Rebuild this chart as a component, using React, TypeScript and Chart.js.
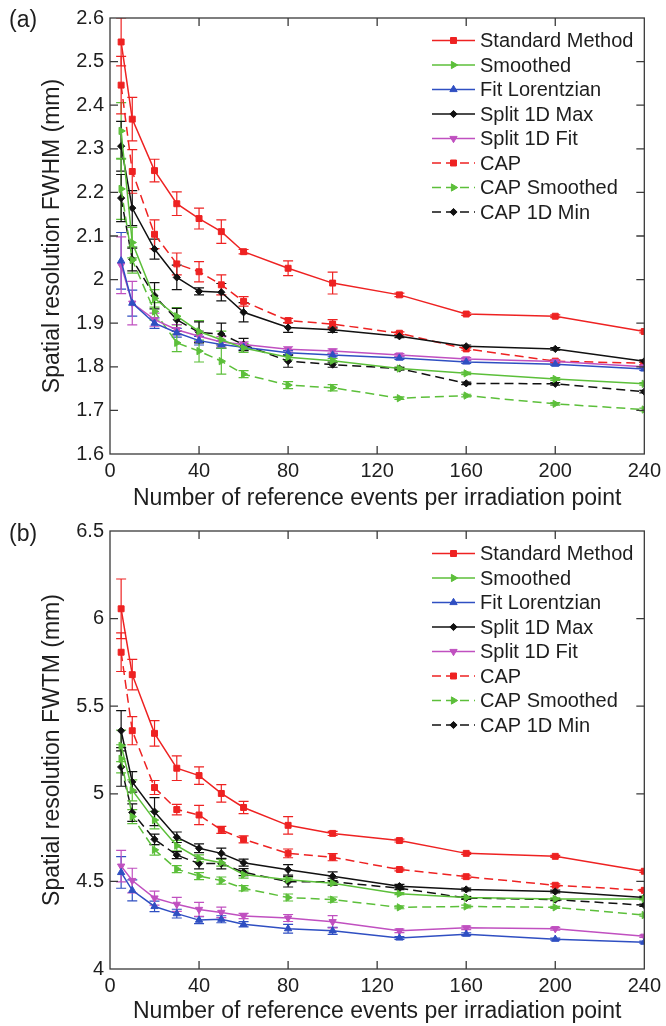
import React, { useEffect, useRef } from 'react';
import { Chart, registerables } from 'chart.js';
import { drawPoint } from 'chart.js/helpers';

Chart.register(...registerables);

const FONT = '"Liberation Sans", Arial, Helvetica, sans-serif';
const TEXT = '#1e1e1e';

// Number of reference events per irradiation point
const X = [5, 10, 20, 30, 40, 50, 60, 80, 100, 130, 160, 200, 240];
const X_TICKS = [0, 40, 80, 120, 160, 200, 240];

const LABELS = ['Standard Method', 'Smoothed', 'Fit Lorentzian', 'Split 1D Max', 'Split 1D Fit', 'CAP', 'CAP Smoothed', 'CAP 1D Min'];

// ---------- (a) FWHM ----------
const stdA = [2.545, 2.368, 2.25, 2.174, 2.14, 2.11, 2.064, 2.026, 1.992, 1.965, 1.921, 1.916, 1.881];
const stdAErr = [0.055, 0.05, 0.026, 0.027, 0.024, 0.027, 0.005, 0.017, 0.025, 0.004, 0.003, 0.003, 0.003];
const smA = [2.341, 2.085, 1.957, 1.916, 1.881, 1.862, 1.843, 1.822, 1.814, 1.796, 1.785, 1.772, 1.761];
const smAErr = [0.065, 0.035, 0.02, 0.02, 0.025, 0.02, 0.01, 0.006, 0.005, 0.003, 0.003, 0.003, 0.003];
const lorA = [2.043, 1.946, 1.9, 1.878, 1.86, 1.851, 1.845, 1.832, 1.827, 1.82, 1.811, 1.806, 1.795];
const lorAErr = [0.065, 0.03, 0.012, 0.01, 0.01, 0.008, 0.006, 0.005, 0.004, 0.003, 0.003, 0.003, 0.003];
const maxA = [2.306, 2.164, 2.07, 2.005, 1.973, 1.971, 1.925, 1.89, 1.885, 1.87, 1.847, 1.841, 1.813];
const maxAErr = [0.057, 0.04, 0.023, 0.028, 0.008, 0.02, 0.022, 0.011, 0.006, 0.003, 0.003, 0.003, 0.003];
const fitA = [2.033, 1.946, 1.908, 1.885, 1.87, 1.857, 1.851, 1.84, 1.836, 1.827, 1.818, 1.812, 1.8];
const fitAErr = [0.065, 0.05, 0.015, 0.012, 0.012, 0.012, 0.006, 0.006, 0.005, 0.003, 0.003, 0.003, 0.003];
const capA = [2.446, 2.248, 2.104, 2.036, 2.018, 1.988, 1.95, 1.906, 1.898, 1.877, 1.841, 1.813, 1.808];
const capAErr = [0.066, 0.05, 0.033, 0.025, 0.023, 0.023, 0.011, 0.005, 0.01, 0.003, 0.003, 0.003, 0.003];
const capSmA = [2.208, 2.045, 1.927, 1.855, 1.836, 1.813, 1.783, 1.758, 1.752, 1.728, 1.734, 1.715, 1.702];
const capSmAErr = [0.07, 0.03, 0.02, 0.02, 0.025, 0.03, 0.008, 0.008, 0.007, 0.003, 0.003, 0.003, 0.003];
const minA = [2.187, 2.046, 1.963, 1.908, 1.879, 1.875, 1.851, 1.813, 1.805, 1.796, 1.762, 1.761, 1.743];
const minAErr = [0.054, 0.026, 0.03, 0.026, 0.024, 0.025, 0.014, 0.014, 0.006, 0.003, 0.003, 0.003, 0.003];

// ---------- (b) FWTM ----------
const stdB = [6.056, 5.68, 5.345, 5.146, 5.104, 5.002, 4.922, 4.82, 4.774, 4.733, 4.66, 4.643, 4.558];
const stdBErr = [0.17, 0.087, 0.073, 0.07, 0.05, 0.05, 0.035, 0.05, 0.012, 0.008, 0.006, 0.006, 0.006];
const smB = [5.274, 5.02, 4.85, 4.704, 4.631, 4.607, 4.539, 4.51, 4.49, 4.43, 4.408, 4.4, 4.4];
const smBErr = [0.09, 0.06, 0.05, 0.03, 0.02, 0.02, 0.02, 0.01, 0.01, 0.006, 0.006, 0.006, 0.006];
const lorB = [4.551, 4.449, 4.357, 4.316, 4.279, 4.284, 4.255, 4.23, 4.218, 4.177, 4.199, 4.17, 4.153];
const lorBErr = [0.09, 0.06, 0.03, 0.025, 0.02, 0.02, 0.015, 0.025, 0.02, 0.008, 0.008, 0.006, 0.006];
const maxB = [5.36, 5.068, 4.898, 4.752, 4.689, 4.66, 4.607, 4.566, 4.529, 4.473, 4.454, 4.442, 4.408];
const maxBErr = [0.115, 0.058, 0.08, 0.03, 0.025, 0.03, 0.02, 0.03, 0.025, 0.01, 0.008, 0.008, 0.006];
const fitB = [4.587, 4.505, 4.405, 4.369, 4.34, 4.323, 4.303, 4.291, 4.27, 4.218, 4.235, 4.23, 4.187];
const fitBErr = [0.09, 0.07, 0.04, 0.04, 0.04, 0.03, 0.015, 0.02, 0.035, 0.01, 0.01, 0.008, 0.006];
const capB = [5.808, 5.36, 5.036, 4.91, 4.879, 4.794, 4.74, 4.66, 4.638, 4.568, 4.527, 4.478, 4.449];
const capBErr = [0.11, 0.08, 0.04, 0.03, 0.055, 0.02, 0.02, 0.025, 0.02, 0.008, 0.008, 0.008, 0.006];
const capSmB = [5.2, 4.87, 4.68, 4.57, 4.53, 4.505, 4.461, 4.408, 4.396, 4.352, 4.357, 4.352, 4.308];
const capSmBErr = [0.08, 0.04, 0.03, 0.02, 0.02, 0.02, 0.015, 0.02, 0.015, 0.008, 0.008, 0.006, 0.006];
const minB = [5.153, 4.893, 4.74, 4.65, 4.602, 4.602, 4.553, 4.498, 4.498, 4.461, 4.405, 4.396, 4.364];
const minBErr = [0.11, 0.05, 0.03, 0.02, 0.03, 0.03, 0.02, 0.03, 0.02, 0.008, 0.008, 0.006, 0.006];

const RED = '#ee2222';
const GREEN = '#5cbf3a';
const BLUE = '#2f4fc2';
const BLACK = '#111111';
const MAGENTA = '#c050c0';

const STYLES = [
  { color: RED, dash: [], style: 'rect', rot: 0, r: 4.2 },
  { color: GREEN, dash: [], style: 'triangle', rot: 90, r: 4.2 },
  { color: BLUE, dash: [], style: 'triangle', rot: 0, r: 4.2 },
  { color: BLACK, dash: [], style: 'rectRot', rot: 0, r: 3.6 },
  { color: MAGENTA, dash: [], style: 'triangle', rot: 180, r: 4.2 },
  { color: RED, dash: [9, 5], style: 'rect', rot: 0, r: 4.2 },
  { color: GREEN, dash: [9, 5], style: 'triangle', rot: 90, r: 4.2 },
  { color: BLACK, dash: [9, 5], style: 'rectRot', rot: 0, r: 3.6 },
];

function makeDatasets(series: number[][], errs: number[][]) {
  return series.map((vals, i) => {
    const s = STYLES[i];
    return {
      label: LABELS[i],
      data: vals.map((v, j) => ({ x: X[j], y: v })),
      errors: errs[i],
      borderColor: s.color,
      backgroundColor: s.color,
      borderWidth: 1.5,
      borderDash: s.dash,
      pointStyle: s.style,
      pointRotation: s.rot,
      pointRadius: s.r,
      pointBorderWidth: 1,
      pointBackgroundColor: s.color,
      pointBorderColor: s.color,
      tension: 0,
      fill: false,
    };
  });
}

const errorBarPlugin = {
  id: 'errorBars',
  beforeDatasetsDraw(chart: any) {
    const { ctx, chartArea, scales } = chart;
    ctx.save();
    ctx.beginPath();
    ctx.rect(chartArea.left, chartArea.top, chartArea.right - chartArea.left, chartArea.bottom - chartArea.top);
    ctx.clip();
    chart.data.datasets.forEach((ds: any) => {
      ctx.strokeStyle = ds.borderColor;
      ctx.lineWidth = 1.2;
      ctx.setLineDash([]);
      ds.data.forEach((p: any, j: number) => {
        const e = ds.errors[j];
        const x = scales.x.getPixelForValue(p.x);
        const y1 = scales.y.getPixelForValue(p.y + e);
        const y2 = scales.y.getPixelForValue(p.y - e);
        const cap = 5;
        ctx.beginPath();
        ctx.moveTo(x, y1);
        ctx.lineTo(x, y2);
        ctx.moveTo(x - cap, y1);
        ctx.lineTo(x + cap, y1);
        ctx.moveTo(x - cap, y2);
        ctx.lineTo(x + cap, y2);
        ctx.stroke();
      });
    });
    ctx.restore();
  },
};

const framePlugin = {
  id: 'frame',
  afterDatasetsDraw(chart: any) {
    const { ctx, chartArea, scales } = chart;
    const { left, right, top, bottom } = chartArea;
    ctx.save();
    ctx.strokeStyle = '#3a3a3a';
    ctx.lineWidth = 1.3;
    ctx.setLineDash([]);
    ctx.strokeRect(left, top, right - left, bottom - top);
    const tl = 8;
    ctx.beginPath();
    scales.x.ticks.forEach((t: any) => {
      const x = scales.x.getPixelForValue(t.value);
      if (x <= left + 1 || x >= right - 1) return;
      ctx.moveTo(x, bottom);
      ctx.lineTo(x, bottom - tl);
      ctx.moveTo(x, top);
      ctx.lineTo(x, top + tl);
    });
    scales.y.ticks.forEach((t: any) => {
      const y = scales.y.getPixelForValue(t.value);
      if (y <= top + 1 || y >= bottom - 1) return;
      ctx.moveTo(left, y);
      ctx.lineTo(left + tl, y);
      ctx.moveTo(right, y);
      ctx.lineTo(right - tl, y);
    });
    ctx.stroke();
    ctx.restore();
  },
};

const legendPlugin = {
  id: 'insideLegend',
  afterDraw(chart: any) {
    const { ctx, chartArea } = chart;
    const x0 = chartArea.left + 322;
    const lineLen = 43;
    const y0 = chartArea.top + 22.5;
    const step = 24.5;
    ctx.save();
    chart.data.datasets.forEach((ds: any, i: number) => {
      const y = y0 + i * step;
      ctx.strokeStyle = ds.borderColor;
      ctx.lineWidth = 1.5;
      ctx.setLineDash(ds.borderDash || []);
      ctx.beginPath();
      ctx.moveTo(x0, y);
      ctx.lineTo(x0 + lineLen, y);
      ctx.stroke();
      ctx.setLineDash([]);
      ctx.fillStyle = ds.pointBackgroundColor;
      ctx.strokeStyle = ds.pointBorderColor;
      ctx.lineWidth = 1;
      drawPoint(ctx, { pointStyle: ds.pointStyle, rotation: ds.pointRotation, radius: ds.pointRadius, borderWidth: 1 } as any, x0 + lineLen / 2, y);
      ctx.fillStyle = TEXT;
      ctx.font = `20px ${FONT}`;
      ctx.textAlign = 'left';
      ctx.textBaseline = 'middle';
      ctx.fillText(ds.label, x0 + lineLen + 5, y + 1);
    });
    ctx.restore();
  },
};

function buildConfig(datasets: any[], yMin: number, yMax: number, yStep: number, yTitle: string, padTop: number, xAxisH: number) {
  return {
    type: 'line',
    data: { datasets },
    options: {
      animation: false,
      responsive: false,
      devicePixelRatio: 1,
      layout: { padding: { top: padTop, right: 16, left: 0, bottom: 0 } },
      plugins: { legend: { display: false }, tooltip: { enabled: false } },
      scales: {
        x: {
          type: 'linear',
          min: 0,
          max: 240,
          afterBuildTicks: (s: any) => { s.ticks = X_TICKS.map((v) => ({ value: v })); },
          ticks: { font: { family: FONT, size: 20 }, color: TEXT, padding: 5, maxRotation: 0, autoSkip: false },
          grid: { display: false, drawTicks: false },
          border: { display: false },
          title: { display: true, text: 'Number of reference events per irradiation point', color: TEXT, font: { family: FONT, size: 23 }, padding: { top: 0, bottom: 1 } },
          afterFit: (s: any) => { s.height = xAxisH; },
        },
        y: {
          type: 'linear',
          min: yMin,
          max: yMax,
          ticks: {
            stepSize: yStep,
            font: { family: FONT, size: 20 },
            color: TEXT,
            padding: 6,
            callback: (v: number) => String(Math.round(v * 10) / 10),
          },
          grid: { display: false, drawTicks: false },
          border: { display: false },
          title: { display: true, text: yTitle, color: TEXT, font: { family: FONT, size: 23 }, padding: { top: 39, bottom: 0 } },
          afterFit: (s: any) => { s.width = 110; },
        },
      },
    },
    plugins: [errorBarPlugin, framePlugin, legendPlugin],
  };
}

export default function App() {
  const refA = useRef<HTMLCanvasElement>(null);
  const refB = useRef<HTMLCanvasElement>(null);

  useEffect(() => {
    const dsA = makeDatasets(
      [stdA, smA, lorA, maxA, fitA, capA, capSmA, minA],
      [stdAErr, smAErr, lorAErr, maxAErr, fitAErr, capAErr, capSmAErr, minAErr]
    );
    const dsB = makeDatasets(
      [stdB, smB, lorB, maxB, fitB, capB, capSmB, minB],
      [stdBErr, smBErr, lorBErr, maxBErr, fitBErr, capBErr, capSmBErr, minBErr]
    );
    const a = new Chart(refA.current as any, buildConfig(dsA, 1.6, 2.6, 0.1, 'Spatial resolution FWHM (mm)', 14, 59) as any);
    const b = new Chart(refB.current as any, buildConfig(dsB, 4, 6.5, 0.5, 'Spatial resolution FWTM (mm)', 17, 57) as any);
    return () => {
      a.destroy();
      b.destroy();
    };
  }, []);

  const panelLabel: React.CSSProperties = {
    position: 'absolute',
    left: 9,
    fontFamily: FONT,
    fontSize: 23,
    lineHeight: '27px',
    color: TEXT,
  };

  return (
    <div style={{ position: 'absolute', left: 0, top: 0, width: 666, height: 1026, background: '#fff' }}>
      <canvas ref={refA} width={666} height={513} style={{ position: 'absolute', left: 0, top: 0, width: 666, height: 513 }} />
      <canvas ref={refB} width={666} height={513} style={{ position: 'absolute', left: 0, top: 513, width: 666, height: 513 }} />
      <div style={{ ...panelLabel, top: 6 }}>(a)</div>
      <div style={{ ...panelLabel, top: 520 }}>(b)</div>
    </div>
  );
}
